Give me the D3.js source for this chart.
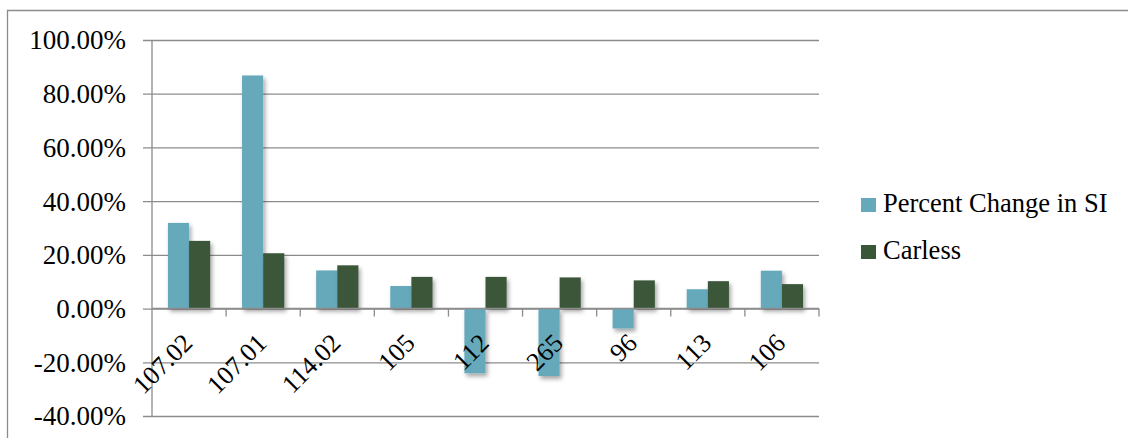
<!DOCTYPE html>
<html>
<head>
<meta charset="utf-8">
<script src="https://cdn.jsdelivr.net/npm/d3@7/dist/d3.min.js"></script>
<style>
  html, body { margin: 0; padding: 0; background: #fff; }
  svg { display: block; }
  text { font-family: "Liberation Serif", "DejaVu Serif", serif; fill: #000; }
</style>
</head>
<body>
<svg id="chart" width="1128" height="438"></svg>
<script>
// Census tracts and their values
const categories = ["107.02", "107.01", "114.02", "105", "112", "265", "96", "113", "106"];
const seriesNames = ["Percent Change in SI", "Carless"];
const percentChangeSI = [0.319, 0.868, 0.142, 0.084, -0.241, -0.251, -0.074, 0.072, 0.141];
const carless = [0.252, 0.206, 0.161, 0.118, 0.118, 0.116, 0.105, 0.102, 0.091];
const yTicks = [1.0, 0.8, 0.6, 0.4, 0.2, 0.0, -0.2, -0.4];
const colors = ["#66a9bb", "#3a5639"];

const svg = d3.select("#chart");
const gridColor = "#8c8c8c";
const fontFamily = "Liberation Serif, DejaVu Serif, serif";

// Frame around the chart area
svg.append("path")
  .attr("d", "M7.5,438 L7.5,10.5 L1128,10.5")
  .attr("fill", "none")
  .attr("stroke", gridColor)
  .attr("stroke-width", 1.3);

const plot = { left: 152, right: 819, top: 40, bottom: 416 };

const x = d3.scaleBand()
  .domain(categories)
  .range([plot.left, plot.right])
  .paddingInner(0)
  .paddingOuter(0);

const y = d3.scaleLinear()
  .domain([-0.4, 1.0])
  .range([plot.bottom, plot.top]);

const defs = svg.append("defs");
const shadow = defs.append("filter")
  .attr("id", "barShadow")
  .attr("x", "-30%").attr("y", "-30%")
  .attr("width", "160%").attr("height", "160%");
shadow.append("feDropShadow")
  .attr("dx", 2).attr("dy", 3)
  .attr("stdDeviation", 2.2)
  .attr("flood-color", "#000")
  .attr("flood-opacity", 0.35);

// Percent labels with a plain hyphen for negatives
const pct = d => d3.format(".2%")(d).replace("\u2212", "-");

// Horizontal gridlines with short ticks to the left of the value axis
const yAxis = d3.axisLeft(y)
  .tickValues(yTicks)
  .tickSize(-(plot.right - plot.left))
  .tickSizeOuter(0)
  .tickFormat(pct);

const yG = svg.append("g")
  .attr("transform", `translate(${plot.left},0)`)
  .call(yAxis);
yG.select(".domain").remove();
yG.selectAll(".tick line")
  .attr("stroke", gridColor)
  .attr("stroke-width", 1.3)
  .attr("x1", -9);
yG.selectAll(".tick text")
  .attr("x", -26)
  .attr("dy", "0.33em")
  .attr("font-size", 27)
  .attr("font-family", fontFamily)
  .attr("fill", "#000");

// Value axis line
svg.append("line")
  .attr("x1", plot.left).attr("x2", plot.left)
  .attr("y1", plot.top).attr("y2", plot.bottom)
  .attr("stroke", gridColor)
  .attr("stroke-width", 1.3);

// Bars
const groupWidth = x.bandwidth() * 0.57;
const inner = d3.scaleBand()
  .domain(seriesNames)
  .range([0, groupWidth]);

const rows = categories.map((c, i) => ({
  cat: c,
  values: [percentChangeSI[i], carless[i]]
}));

const groups = svg.append("g").selectAll("g")
  .data(rows)
  .join("g")
  .attr("transform", d => `translate(${x(d.cat) + (x.bandwidth() - groupWidth) / 2},0)`);

groups.selectAll("rect")
  .data(d => d.values.map((v, k) => ({ v, k })))
  .join("rect")
  .attr("x", d => inner(seriesNames[d.k]))
  .attr("width", inner.bandwidth())
  .attr("y", d => y(Math.max(0, d.v)))
  .attr("height", d => Math.abs(y(d.v) - y(0)))
  .attr("fill", d => colors[d.k])
  .attr("filter", "url(#barShadow)");

// Category axis along zero with tick marks between categories
const boundaries = categories.map(c => x(c)).concat([plot.right]);
const xAxisG = svg.append("g");
xAxisG.append("line")
  .attr("x1", plot.left).attr("x2", plot.right)
  .attr("y1", y(0)).attr("y2", y(0))
  .attr("stroke", gridColor)
  .attr("stroke-width", 1.5);
xAxisG.selectAll("line.tk")
  .data(boundaries.slice(1))
  .join("line")
  .attr("class", "tk")
  .attr("x1", d => d).attr("x2", d => d)
  .attr("y1", y(0)).attr("y2", y(0) + 8)
  .attr("stroke", gridColor)
  .attr("stroke-width", 1.3);

// Rotated category labels
xAxisG.selectAll("text")
  .data(categories)
  .join("text")
  .attr("text-anchor", "end")
  .attr("font-size", 26)
  .attr("font-family", fontFamily)
  .attr("transform", d => `translate(${x(d) + x.bandwidth() / 2 + 5},${y(0) + 36}) rotate(-45)`)
  .text(d => d);

// Legend
const legend = svg.append("g").attr("transform", "translate(861,198)");
const items = legend.selectAll("g")
  .data(seriesNames)
  .join("g")
  .attr("transform", (d, i) => `translate(0,${i * 47})`);
items.append("rect")
  .attr("width", 15).attr("height", 14)
  .attr("fill", (d, i) => colors[i]);
items.append("text")
  .attr("x", 22)
  .attr("y", 14)
  .attr("font-size", 26.5)
  .attr("font-family", fontFamily)
  .text(d => d);
</script>
</body>
</html>
